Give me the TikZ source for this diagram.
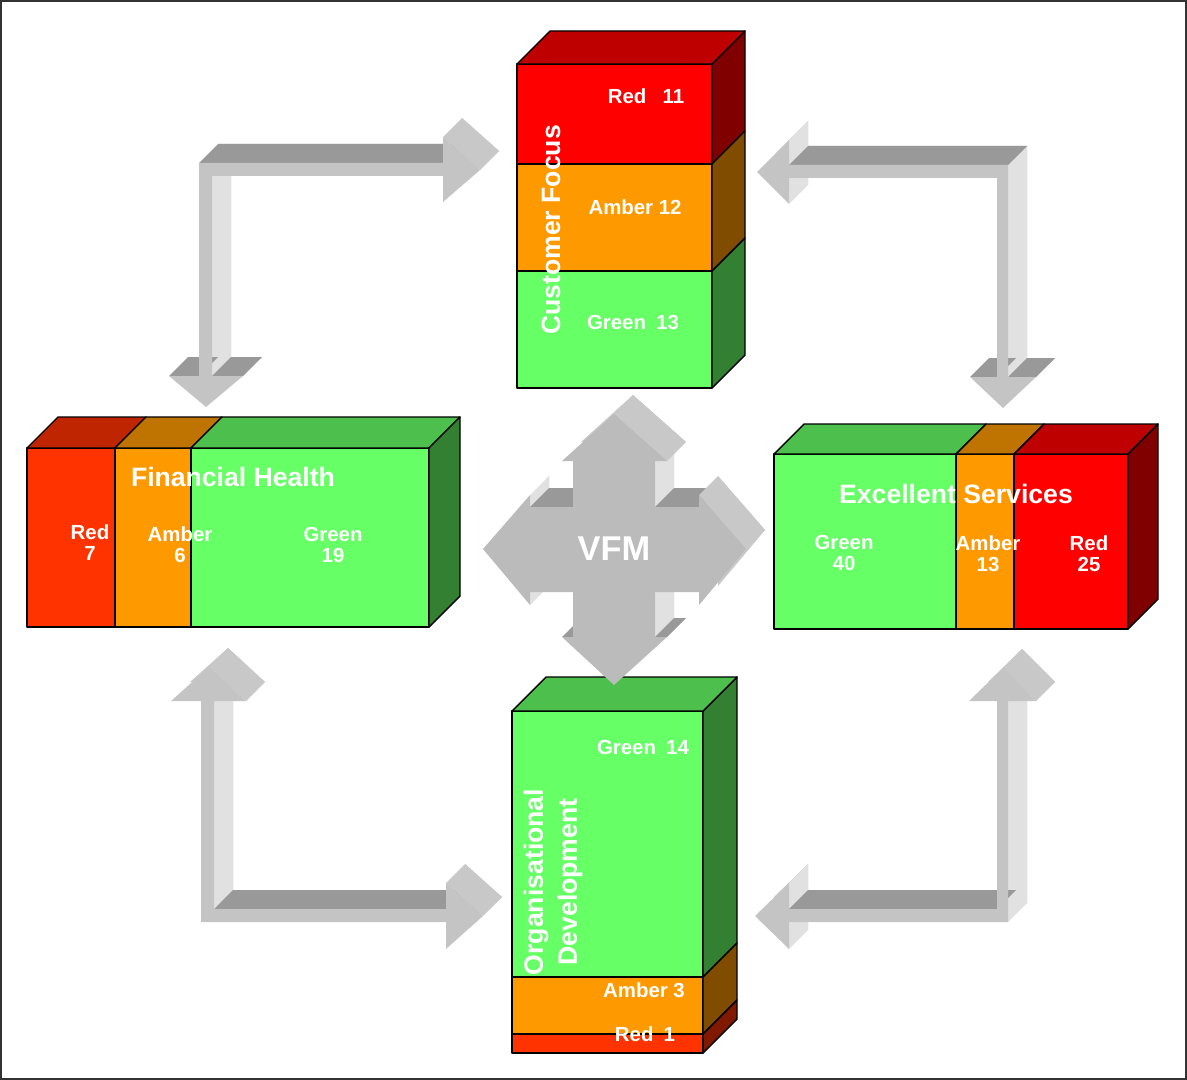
\documentclass[tikz,border=0pt]{standalone}
\usepackage{fontspec}
\setmainfont{Liberation Sans}
\usetikzlibrary{calc}
\definecolor{ragred}{RGB}{255, 0, 0}
\definecolor{ragscarlet}{RGB}{255, 51, 0}
\definecolor{ragamber}{RGB}{255, 153, 0}
\definecolor{raggreen}{RGB}{102, 255, 102}
\definecolor{arrowfront}{RGB}{196, 196, 196}
\definecolor{crossfront}{RGB}{187, 187, 187}
\definecolor{arrowtop}{RGB}{153, 153, 153}
\definecolor{arrowside}{RGB}{225, 225, 225}
\definecolor{arrowhead}{RGB}{200, 200, 200}
% outlines of the 3D arrows (pixel grid, y downwards)
\newcommand{\arrowNW}{(199,163) -- (443,163) -- (443,137) -- (480,170) -- (443,202) -- (443,176) -- (212,176) -- (212,376) -- (243,376) -- (206,407) -- (169,376) -- (199,376) -- cycle}
\newcommand{\arrowNE}{(1008,165) -- (789,165) -- (789,140) -- (757,172) -- (789,204) -- (789,178) -- (997,178) -- (997,377) -- (970,377) -- (1003,408) -- (1036,377) -- (1008,377) -- cycle}
\newcommand{\arrowSW}{(201,922) -- (201,701) -- (171,701) -- (209,667) -- (246,701) -- (214,701) -- (214,909) -- (446,909) -- (446,883) -- (483,916) -- (446,949) -- (446,922) -- cycle}
\newcommand{\arrowSE}{(1008,922) -- (1008,701) -- (1036,701) -- (1003,668) -- (969,701) -- (997,701) -- (997,909) -- (789,909) -- (789,883) -- (755,916) -- (789,949) -- (789,922) -- cycle}
\newcommand{\arrowVFM}{(614,414) -- (667,461) -- (655,461) -- (655,507) -- (699,507) -- (699,495) -- (746,549) -- (699,605) -- (699,592) -- (655,592) -- (655,637) -- (667,637) -- (614,685) -- (562,637) -- (573,637) -- (573,592) -- (530,592) -- (530,605) -- (483,549) -- (530,495) -- (530,507) -- (573,507) -- (573,461) -- (562,461) -- cycle}
\newcommand{\walls}[1]{\foreach \col/\xa/\ya/\xb/\yb in {#1}{
    \fill[\col] (\xa,\ya) -- (\xb,\yb) -- ++(19,-19) -- ({\xa+19},{\ya-19}) -- cycle;}}

\begin{document}
\begin{tikzpicture}[x=0.5pt, y=-0.5pt,
    face/.style={draw=black, line width=0.7pt, line join=round},
    lbl/.style={text=white, font=\fontsize{10.2}{10.5}\selectfont\bfseries, align=center, inner sep=0pt},
    title/.style={text=white, font=\fontsize{13.3}{17}\selectfont\bfseries, align=center, inner sep=0pt},
    back/.style={fill=arrowhead, shift={(19,-19)}}]
  \useasboundingbox (0,0) rectangle (1187,1080);
  \draw[black!80, line width=0.6pt] (1,1) rectangle (1186,1079);

  % Customer Focus
  \foreach \ya/\yb/\col in {64/164/ragred, 164/271/ragamber, 271/388/raggreen}{
    \filldraw[face, fill=\col] (517,\ya) rectangle (712,\yb);
    \filldraw[face, fill=\col!50!black] (712,\ya) -- (745,{\ya-33}) -- (745,{\yb-33}) -- (712,\yb) -- cycle;
  }
  \filldraw[face, fill=ragred!75!black] (517,64) -- (550,31) -- (745,31) -- (712,64) -- cycle;
  \node[lbl] (cfred) at (646,96) {Red\hspace{0.8em}11};
  \node[lbl] (cfamber) at (635,207) {Amber 12};
  \node[lbl] (cfgreen) at (633,322) {Green\hspace{0.5em}13};
  \node[title, rotate=90] (cf) at (551,230) {Customer Focus};

  % Financial Health
  \foreach \xa/\xb/\col in {27/115/ragscarlet, 115/191/ragamber, 191/429/raggreen}{
    \filldraw[face, fill=\col] (\xa,448) rectangle (\xb,627);
    \filldraw[face, fill=\col!75!black] (\xa,448) -- ({\xa+31},417) -- ({\xb+31},417) -- (\xb,448) -- cycle;
  }
  \filldraw[face, fill=raggreen!50!black] (429,448) -- (460,417) -- (460,596) -- (429,627) -- cycle;
  \node[title] (fh) at (233,477) {Financial Health};
  \node[lbl] (fhred) at (90,543) {Red\\7};
  \node[lbl] (fhamber) at (180,545) {Amber\\6};
  \node[lbl] (fhgreen) at (333,545) {Green\\19};

  % Excellent Services
  \foreach \xa/\xb/\col in {774/956/raggreen, 956/1014/ragamber, 1014/1128/ragred}{
    \filldraw[face, fill=\col] (\xa,454) rectangle (\xb,629);
    \filldraw[face, fill=\col!75!black] (\xa,454) -- ({\xa+30},424) -- ({\xb+30},424) -- (\xb,454) -- cycle;
  }
  \filldraw[face, fill=ragred!50!black] (1128,454) -- (1158,424) -- (1158,599) -- (1128,629) -- cycle;
  \node[title] (es) at (956,494) {Excellent Services};
  \node[lbl] (esgreen) at (844,553) {Green\\40};
  \node[lbl] (esamber) at (988,554) {Amber\\13};
  \node[lbl] (esred) at (1089,554) {Red\\25};

  % Organisational Development
  \foreach \ya/\yb/\col in {711/977/raggreen, 977/1034/ragamber, 1034/1053/ragscarlet}{
    \filldraw[face, fill=\col] (512,\ya) rectangle (703,\yb);
    \filldraw[face, fill=\col!50!black] (703,\ya) -- (737,{\ya-34}) -- (737,{\yb-34}) -- (703,\yb) -- cycle;
  }
  \filldraw[face, fill=raggreen!75!black] (512,711) -- (546,677) -- (737,677) -- (703,711) -- cycle;
  \node[lbl] (odgreen) at (643,747) {Green\hspace{0.5em}14};
  \node[lbl] (odamber) at (644,990) {Amber 3};
  \node[lbl] (odred) at (645,1034) {Red\hspace{0.5em}1};
  \node[title, rotate=90] (od) at (553,882) {Organisational\\Development};

  % L-shaped arrows
  \fill[back] \arrowNW;
  \walls{arrowside/212/176/212/376, arrowtop/199/163/443/163, arrowtop/169/376/199/376, arrowtop/212/376/243/376, arrowhead/443/137/480/170}
  \fill[arrowfront] \arrowNW;

  \fill[back] \arrowNE;
  \walls{arrowside/1008/165/1008/377, arrowside/789/140/789/165, arrowside/789/178/789/204, arrowtop/789/165/1008/165, arrowtop/970/377/997/377, arrowtop/1008/377/1036/377}
  \fill[arrowfront] \arrowNE;

  \fill[back] \arrowSW;
  \walls{arrowside/214/701/214/909, arrowtop/214/909/446/909, arrowhead/209/667/246/701, arrowhead/446/883/483/916}
  \fill[arrowfront] \arrowSW;

  \fill[back] \arrowSE;
  \walls{arrowside/1008/701/1008/922, arrowside/789/883/789/909, arrowside/789/922/789/949, arrowtop/789/909/997/909, arrowhead/1003/668/1036/701}
  \fill[arrowfront] \arrowSE;

  % VFM cross
  \fill[back] \arrowVFM;
  \walls{arrowside/655/461/655/507, arrowside/655/592/655/637, arrowside/530/495/530/507, arrowside/530/592/530/605, arrowtop/530/507/573/507, arrowtop/655/507/699/507, arrowtop/562/637/573/637, arrowtop/655/637/667/637, arrowhead/614/414/667/461, arrowhead/699/495/746/549}
  \fill[crossfront] \arrowVFM;
  \node[text=white, font=\fontsize{17.2}{20}\selectfont\bfseries, inner sep=0pt] (vfm) at (614,549) {VFM};
\end{tikzpicture}
\end{document}
